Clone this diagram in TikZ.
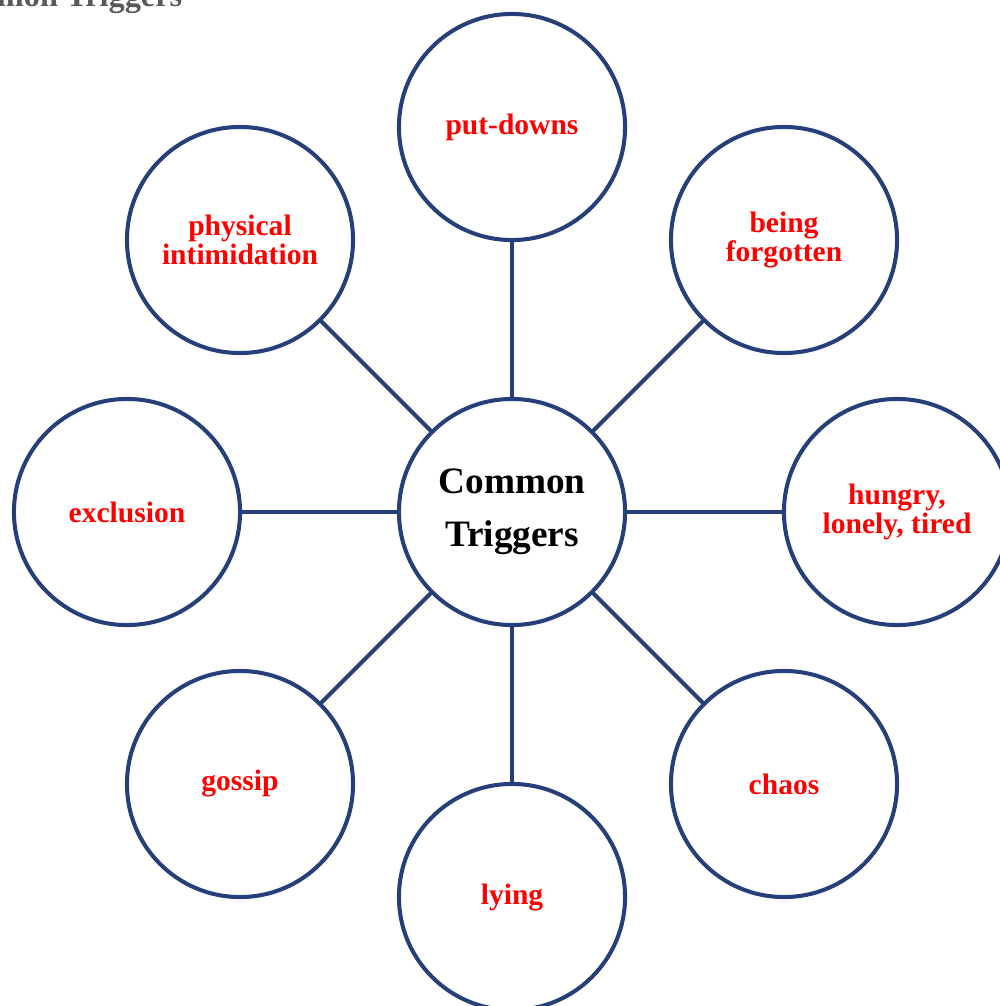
\documentclass[tikz,border=0pt]{standalone}
\usepackage{fontspec}
\setmainfont{Liberation Serif}
\definecolor{navy}{HTML}{263F78}
\definecolor{headgray}{HTML}{595959}
\tikzset{
  bubble/.style={circle, draw=navy, line width=1.15pt, fill=white, minimum size=2.26cm, inner sep=0pt, align=center, text=red, font=\fontsize{8.4}{8.3}\selectfont\bfseries},
  hub/.style={bubble, text=black, font=\fontsize{10.6}{15}\selectfont\bfseries},
  spoke/.style={draw=navy, line width=1.15pt}
}
\begin{document}
\begin{tikzpicture}[x=0.01cm, y=-0.01cm, line join=round, line cap=round]
  \useasboundingbox (0,0) rectangle (1000,1006);
  % heading, mostly off the top edge
  \node[anchor=base east, inner sep=0pt, text=headgray, font=\fontsize{9.2}{10}\selectfont\bfseries] (head) at (183,7) {Common Triggers};
  % centre and the eight triggers round it
  \node[hub] (hub) at (512,512) {Common\\Triggers};
  \node[bubble] (put)    at (512,127) {put-downs};
  \node[bubble] (forgot) at (784,240) {being\\forgotten};
  \node[bubble] (hlt)    at (897,512) {hungry,\\lonely, tired};
  \node[bubble] (chaos)  at (784,784) {chaos};
  \node[bubble] (lying)  at (512,897) {lying};
  \node[bubble] (gossip) at (240,784) {gossip};
  \node[bubble] (excl)   at (127,512) {exclusion};
  \node[bubble] (phys)   at (240,240) {physical\\intimidation};
  \foreach \n in {put,forgot,hlt,chaos,lying,gossip,excl,phys}
    \draw[spoke] (hub) -- (\n);
\end{tikzpicture}
\end{document}
